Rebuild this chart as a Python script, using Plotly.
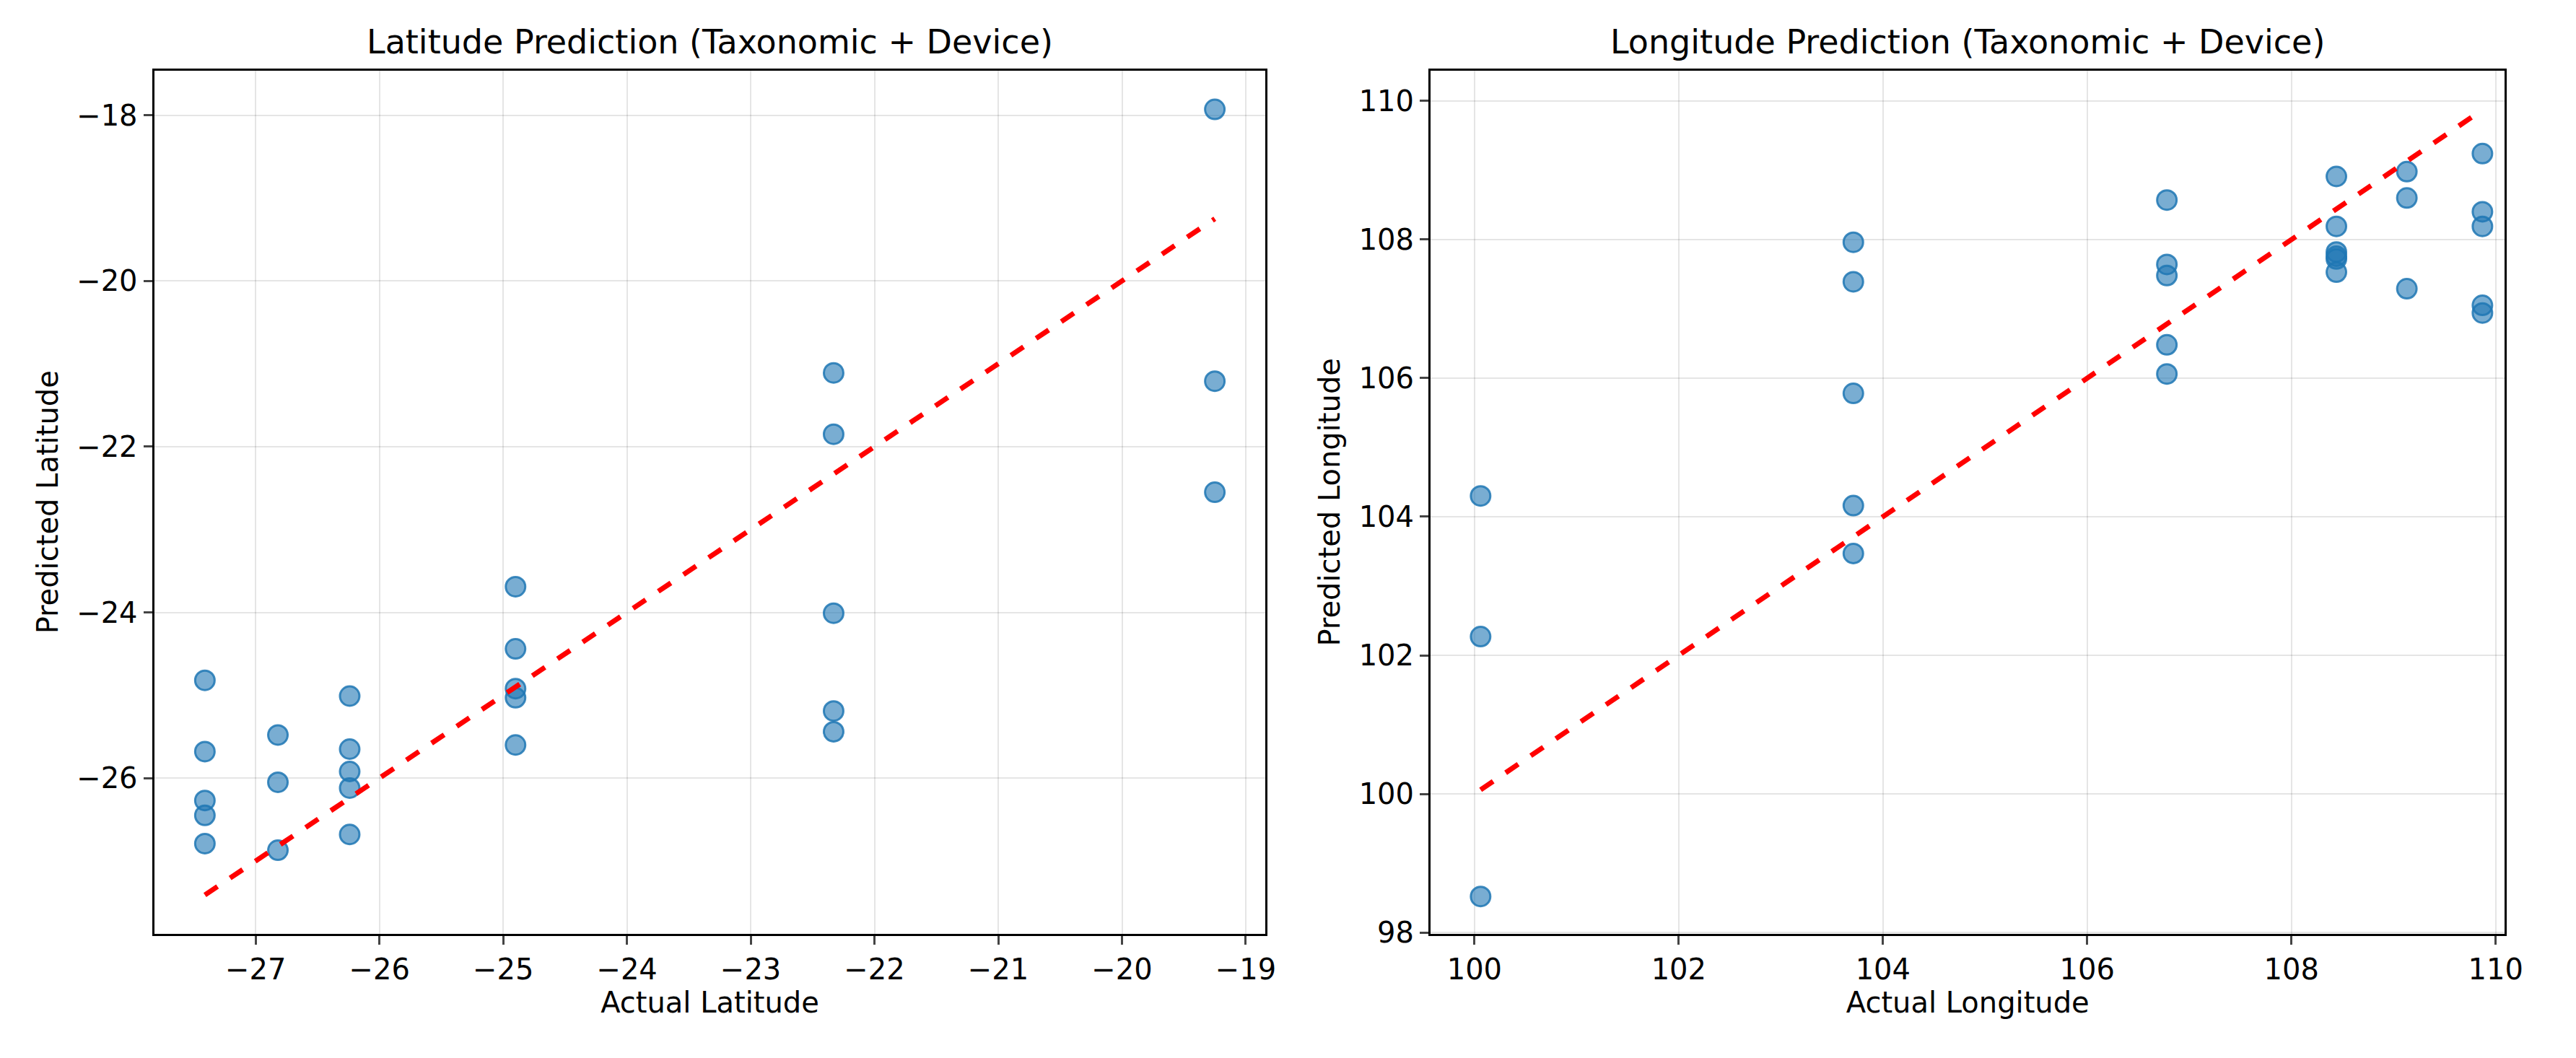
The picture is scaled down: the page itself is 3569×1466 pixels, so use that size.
import plotly.graph_objects as go

lat_actual = [-27.41]*5 + [-26.82]*3 + [-26.24]*5 + [-24.90]*5 + [-22.33]*5 + [-19.25]*3
lat_pred = [-24.82, -25.68, -26.27, -26.45, -26.79,
            -25.48, -26.05, -26.87,
            -25.01, -25.65, -25.92, -26.12, -26.68,
            -23.69, -24.44, -24.92, -25.03, -25.60,
            -21.11, -21.85, -24.01, -25.19, -25.44,
            -17.93, -21.21, -22.55]
lon_actual = [100.06]*3 + [103.71]*5 + [106.78]*5 + [108.44]*6 + [109.13]*3 + [109.87]*5
lon_pred = [104.30, 102.27, 98.52,
            107.96, 107.39, 105.78, 104.16, 103.47,
            108.57, 107.64, 107.48, 106.48, 106.06,
            108.91, 108.19, 107.82, 107.76, 107.72, 107.53,
            108.98, 108.60, 107.29,
            109.24, 108.40, 108.19, 107.05, 106.94]
lat_line = [min(lat_actual), max(lat_actual)]
lon_line = [min(lon_actual), max(lon_actual)]

fig = go.Figure()
mk = dict(size=27, color="rgba(31,119,180,0.6)", line=dict(color="rgba(31,119,180,0.85)", width=3))
fig.add_trace(go.Scatter(x=lat_actual, y=lat_pred, mode="markers", marker=mk, xaxis="x", yaxis="y"))
fig.add_trace(go.Scatter(x=lat_line, y=lat_line, mode="lines", line=dict(color="red", width=7, dash="dash"), xaxis="x", yaxis="y"))
fig.add_trace(go.Scatter(x=lon_actual, y=lon_pred, mode="markers", marker=mk, xaxis="x2", yaxis="y2"))
fig.add_trace(go.Scatter(x=lon_line, y=lon_line, mode="lines", line=dict(color="red", width=7, dash="dash"), xaxis="x2", yaxis="y2"))

ax = dict(showline=True, linecolor="black", linewidth=3, mirror=True, ticks="outside", ticklen=12, tickwidth=3,
          gridcolor="rgba(0,0,0,0.1)", gridwidth=2, zeroline=False, tickfont=dict(size=40, color="black"),
          title_font=dict(size=40, color="black"))
fig.update_layout(
    width=3569, height=1466, showlegend=False, plot_bgcolor="white", paper_bgcolor="white",
    font=dict(family="DejaVu Sans", color="black"),
    margin=dict(l=0, r=0, t=0, b=0),
    xaxis=dict(ax, domain=[0.058, 0.4925], range=[-27.82, -18.84], dtick=1, title=dict(text="Actual Latitude", standoff=10), anchor="y"),
    yaxis=dict(ax, domain=[0.110, 0.938], range=[-27.88, -17.46], dtick=2, title=dict(text="Predicted Latitude", standoff=14), anchor="x"),
    xaxis2=dict(ax, domain=[0.557, 0.977], range=[99.57, 110.09], dtick=2, title=dict(text="Actual Longitude", standoff=10), anchor="y2"),
    yaxis2=dict(ax, domain=[0.110, 0.938], range=[97.98, 110.44], dtick=2, title=dict(text="Predicted Longitude", standoff=14), anchor="x2"),
    annotations=[
        dict(text="Latitude Prediction (Taxonomic + Device)", x=0.2753, y=0.945, xref="paper", yref="paper",
             xanchor="center", yanchor="bottom", showarrow=False, font=dict(size=46)),
        dict(text="Longitude Prediction (Taxonomic + Device)", x=0.767, y=0.945, xref="paper", yref="paper",
             xanchor="center", yanchor="bottom", showarrow=False, font=dict(size=46)),
    ],
)
fig.write_html("out.html")
